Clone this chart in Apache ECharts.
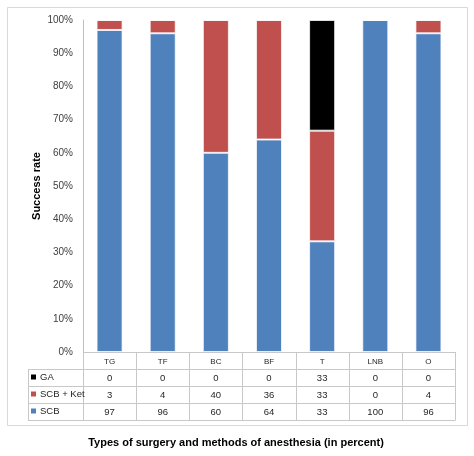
<!DOCTYPE html>
<html>
<head>
<meta charset="utf-8">
<script src="https://cdn.jsdelivr.net/npm/echarts@6/dist/echarts.min.js"></script>
<style>
html,body{margin:0;padding:0;background:#fff;}
#c{width:474px;height:456px;}
</style>
</head>
<body>
<div id="c"></div>
<script>
// ---- data ----
const categories = ['TG', 'TF', 'BC', 'BF', 'T', 'LNB', 'O'];
const seriesNames = ['GA', 'SCB + Ket', 'SCB'];
const GA = [0, 0, 0, 0, 33, 0, 0];
const SCBKet = [3, 4, 40, 36, 33, 0, 4];
const SCB = [97, 96, 60, 64, 33, 100, 96];
const yTicks = [0, 10, 20, 30, 40, 50, 60, 70, 80, 90, 100];
const colors = { 'GA': '#000000', 'SCB + Ket': '#C0504D', 'SCB': '#4F81BD' };
const titleText = 'Types of surgery and methods of anesthesia (in percent)';
const yName = 'Success rate';

// 100% stacked: share of each column
const totals = categories.map((_, i) => GA[i] + SCBKet[i] + SCB[i]);
const pct = arr => arr.map((v, i) => v / totals[i] * 100);

// ---- layout ----
const W = 474, H = 456;
const gl = 83, gr = 455, gt = 20, gb = 352;
const tableLeft = 28;
const rowH = 17;
const rowY = [gb, gb + rowH, gb + 2 * rowH, gb + 3 * rowH, gb + 4 * rowH]; // boundaries
const band = (gr - gl) / categories.length;
const lineColor = '#c8c8c8';
const txtColor = '#262626';

const graphic = [];
// outer frame
graphic.push({ type: 'rect', shape: { x: 7.5, y: 7.5, width: 460, height: 418 }, style: { fill: 'none', stroke: '#d9d9d9', lineWidth: 1 }, silent: true });
// horizontal table lines
graphic.push({ type: 'line', shape: { x1: gl, y1: rowY[0] + 0.5, x2: gr, y2: rowY[0] + 0.5 }, style: { stroke: lineColor, lineWidth: 1 } });
for (let r = 1; r < rowY.length; r++) {
  graphic.push({ type: 'line', shape: { x1: tableLeft, y1: rowY[r] + 0.5, x2: gr, y2: rowY[r] + 0.5 }, style: { stroke: lineColor, lineWidth: 1 } });
}
// vertical table lines
graphic.push({ type: 'line', shape: { x1: tableLeft + 0.5, y1: rowY[1], x2: tableLeft + 0.5, y2: rowY[4] + 0.5 }, style: { stroke: lineColor, lineWidth: 1 } });
for (let c = 0; c <= categories.length; c++) {
  const x = Math.round(gl + c * band) + 0.5;
  graphic.push({ type: 'line', shape: { x1: x, y1: rowY[0], x2: x, y2: rowY[4] + 0.5 }, style: { stroke: lineColor, lineWidth: 1 } });
}
// header row: categories
categories.forEach((cat, i) => {
  graphic.push({ type: 'text', x: gl + (i + 0.5) * band, y: rowY[0] + rowH / 2 + 1, style: { text: cat, fill: txtColor, font: '8px "Liberation Sans", Arial, sans-serif', align: 'center', verticalAlign: 'middle' } });
});
// data rows
const rowsData = { 'GA': GA, 'SCB + Ket': SCBKet, 'SCB': SCB };
seriesNames.forEach((name, r) => {
  const cy = rowY[r + 1] + rowH / 2;
  graphic.push({ type: 'rect', shape: { x: 31, y: cy - 3, width: 5, height: 5 }, style: { fill: colors[name] } });
  graphic.push({ type: 'text', x: 40, y: cy, style: { text: name, fill: txtColor, font: '9.5px "Liberation Sans", Arial, sans-serif', align: 'left', verticalAlign: 'middle' } });
  rowsData[name].forEach((v, i) => {
    graphic.push({ type: 'text', x: gl + (i + 0.5) * band, y: cy + 0.5, style: { text: String(v), fill: txtColor, font: '9.5px "Liberation Sans", Arial, sans-serif', align: 'center', verticalAlign: 'middle' } });
  });
});
// bottom title
graphic.push({ type: 'text', x: 236, y: 443, style: { text: titleText, fill: '#000', font: 'bold 11px "Liberation Sans", Arial, sans-serif', align: 'center', verticalAlign: 'middle' } });

const chart = echarts.init(document.getElementById('c'), null, { renderer: 'canvas' });
const barStyle = c => ({ color: c, borderColor: 'rgba(255,255,255,0.75)', borderWidth: 1 });
chart.setOption({
  animation: false,
  backgroundColor: '#fff',
  grid: { left: gl, right: W - gr, top: gt, bottom: H - gb },
  xAxis: {
    type: 'category', data: categories,
    axisLine: { show: false }, axisTick: { show: false }, axisLabel: { show: false }
  },
  yAxis: {
    type: 'value', min: yTicks[0], max: yTicks[yTicks.length - 1], interval: yTicks[1] - yTicks[0],
    name: yName, nameLocation: 'middle', nameGap: 41, nameRotate: 90, nameMoveOverlap: false,
    nameTextStyle: { fontFamily: '"Liberation Sans", Arial, sans-serif', fontWeight: 'bold', fontSize: 11, color: '#000' },
    axisLine: { show: true, lineStyle: { color: '#bfbfbf', width: 1 } },
    axisTick: { show: false },
    splitLine: { show: false },
    axisLabel: { formatter: '{value}%', margin: 10, fontSize: 10, color: '#404040', fontFamily: '"Liberation Sans", Arial, sans-serif' }
  },
  series: [
    { name: 'SCB', type: 'bar', stack: 'all', data: pct(SCB), barWidth: '49%', itemStyle: barStyle(colors['SCB']) },
    { name: 'SCB + Ket', type: 'bar', stack: 'all', data: pct(SCBKet), barWidth: '49%', itemStyle: barStyle(colors['SCB + Ket']) },
    { name: 'GA', type: 'bar', stack: 'all', data: pct(GA), barWidth: '49%', itemStyle: barStyle(colors['GA']) }
  ],
  graphic: graphic
});
</script>
</body>
</html>
